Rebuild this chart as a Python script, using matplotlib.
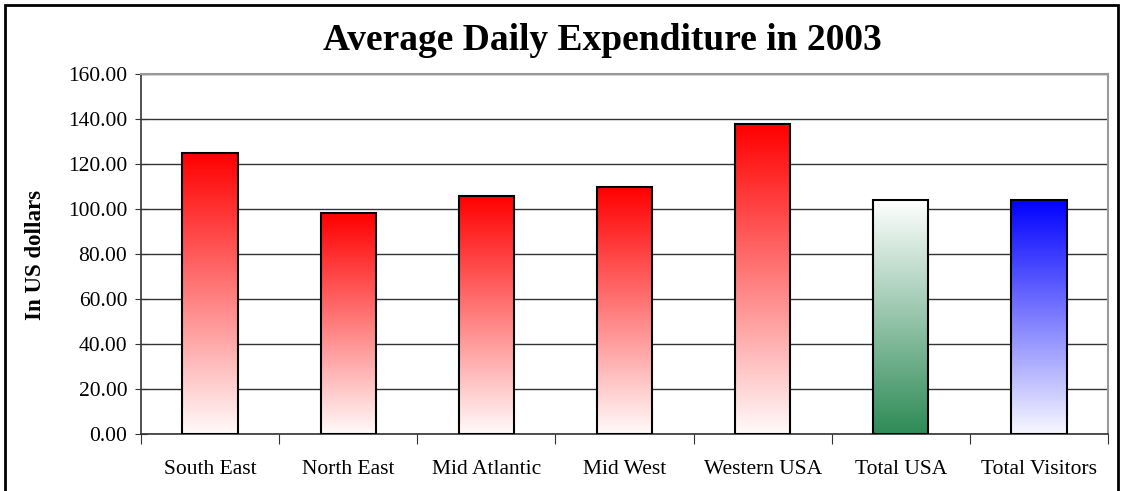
import numpy as np
import matplotlib.pyplot as plt
from matplotlib.colors import LinearSegmentedColormap
from matplotlib.patches import Rectangle

plt.rcParams['font.family'] = ['Liberation Serif', 'DejaVu Serif']

regions = ['South East', 'North East', 'Mid Atlantic', 'Mid West',
           'Western USA', 'Total USA', 'Total Visitors']
expenditure = [124.7, 98.1, 105.8, 109.6, 137.6, 104.1, 104.1]
# gradient colours (top, bottom) per bar
grad_top = ['#FF0000'] * 5 + ['#FFFFFF', '#0000FF']
grad_bottom = ['#FFFAFA'] * 5 + ['#2E8B57', '#F8F8FF']

fig = plt.figure(figsize=(11.21, 4.91), dpi=100)
ax = fig.add_axes([0.1258, 0.1161, 0.8626, 0.7332])

x = np.arange(len(regions))
width = 0.4
bars = ax.bar(x, expenditure, width=width, facecolor='none',
              edgecolor='black', linewidth=1.5, zorder=3)

grad = np.linspace(0, 1, 256).reshape(-1, 1)
for xi, val, top, bot in zip(x, expenditure, grad_top, grad_bottom):
    cmap = LinearSegmentedColormap.from_list('g', [bot, top])
    ax.imshow(grad, cmap=cmap, origin='lower', aspect='auto',
              extent=[xi - width / 2, xi + width / 2, 0, val], zorder=2)

ax.set_xlim(-0.5, len(regions) - 0.5)
ax.set_ylim(0, 160)
ax.set_yticks(np.arange(0, 161, 20))
ax.set_yticklabels([f'{v:.2f}' for v in np.arange(0, 161, 20)], fontsize=15.5)
ax.yaxis.grid(True, color='#333333', linewidth=1.0, zorder=1)
ax.set_axisbelow(True)

ax.set_xticks(np.arange(-0.5, len(regions), 1))
ax.set_xticklabels([])
ax.set_xticks(x, minor=True)
ax.set_xticklabels(regions, minor=True, fontsize=15.5)
ax.tick_params(axis='x', which='major', direction='out', length=7, color='#333333')
ax.tick_params(axis='x', which='minor', length=0, pad=19)
ax.tick_params(axis='y', direction='inout', length=8, color='#333333', pad=6)

for side in ['top', 'right']:
    ax.spines[side].set_color('#999999')
    ax.spines[side].set_linewidth(1.5)
for side in ['left', 'bottom']:
    ax.spines[side].set_color('#333333')
    ax.spines[side].set_linewidth(1.2)

fig.text(0.032, 0.481, 'In US dollars', rotation=90, ha='center', va='center',
         fontsize=16.5, fontweight='bold')
fig.text(0.537, 0.918, 'Average Daily Expenditure in 2003', ha='center',
         va='center', fontsize=27, fontweight='bold')

fig.patches.append(Rectangle((5 / 1121, -0.05), 1113 / 1121, 1.04, fill=False,
                             edgecolor='black', linewidth=2,
                             transform=fig.transFigure, figure=fig))

fig.savefig('out.png', dpi=100)
